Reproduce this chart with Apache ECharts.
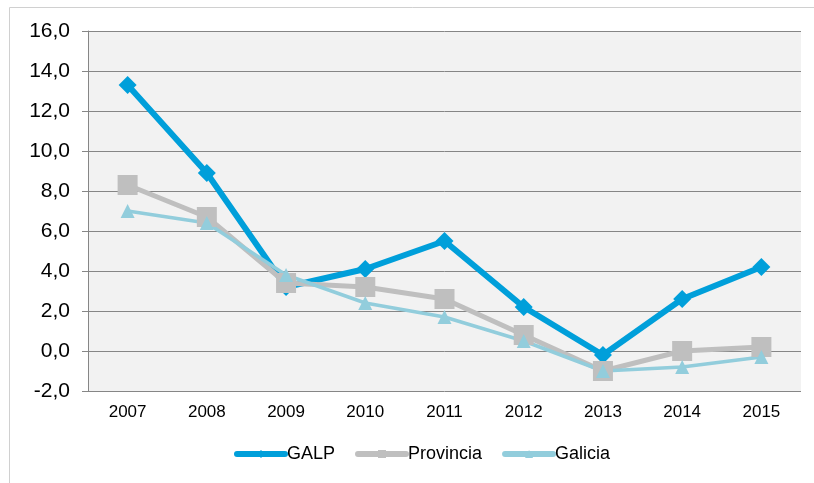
<!DOCTYPE html>
<html>
<head>
<meta charset="utf-8">
<script src="https://cdn.jsdelivr.net/npm/echarts@6/dist/echarts.min.js"></script>
<style>
  html, body { margin: 0; padding: 0; background: #fff; }
  #chart { width: 814px; height: 483px; }
</style>
</head>
<body>
<div id="chart"></div>
<script>
// years on the x axis
const years = ['2007', '2008', '2009', '2010', '2011', '2012', '2013', '2014', '2015']
// values
const galp = [13.3, 8.9, 3.2, 4.1, 5.5, 2.2, -0.2, 2.6, 4.2]
const provincia = [8.3, 6.7, 3.4, 3.2, 2.6, 0.8, -1.0, 0.0, 0.2]
const galicia = [7.0, 6.4, 3.8, 2.4, 1.7, 0.5, -1.0, -0.8, -0.3]

const chart = echarts.init(document.getElementById('chart'))

function line(name, data, color, width, symbol, size) {
  return {
    name: name,
    type: 'line',
    data: data,
    symbol: symbol,
    symbolSize: size,
    lineStyle: { color: color, width: width },
    itemStyle: { color: color },
    emphasis: { disabled: true }
  }
}

chart.setOption({
  animation: false,
  backgroundColor: '#fff',
  textStyle: { fontFamily: 'Liberation Sans, Arial, sans-serif' },
  graphic: [{
    type: 'rect',
    shape: { x: 9.5, y: 7.5, width: 820, height: 500 },
    style: { fill: 'none', stroke: '#d0d0d0', lineWidth: 1 },
    silent: true
  }],
  grid: {
    left: 88,
    right: 13,
    top: 31,
    bottom: 92,
    show: true,
    backgroundColor: '#f2f2f2',
    borderWidth: 0
  },
  legend: {
    bottom: 15,
    left: 229,
    padding: 5,
    itemWidth: 48,
    itemHeight: 10,
    itemGap: 20,
    lineStyle: { width: 6, cap: 'round' },
    textStyle: { fontSize: 18, color: '#000', padding: [0, 0, 0, -3] },
    data: ['GALP', 'Provincia', 'Galicia']
  },
  xAxis: {
    type: 'category',
    data: years,
    boundaryGap: true,
    axisLine: { show: false },
    axisTick: { show: false },
    axisLabel: { fontSize: 17, color: '#000', margin: 13 }
  },
  yAxis: {
    type: 'value',
    min: -2,
    max: 16,
    interval: 2,
    axisLine: { show: true, lineStyle: { color: '#868686', width: 1 } },
    axisTick: { show: true, length: 6, lineStyle: { color: '#868686' } },
    splitLine: { show: true, lineStyle: { color: '#868686', width: 1 } },
    axisLabel: {
      fontSize: 21,
      color: '#000',
      margin: 18,
      formatter: v => v.toFixed(1).replace('.', ',')
    }
  },
  series: [
    line('GALP', galp, '#009fda', 6, 'diamond', 18),
    line('Provincia', provincia, '#bfbfbf', 5, 'rect', 20),
    line('Galicia', galicia, '#92cddc', 3.5, 'triangle', 14)
  ]
})
</script>
</body>
</html>
